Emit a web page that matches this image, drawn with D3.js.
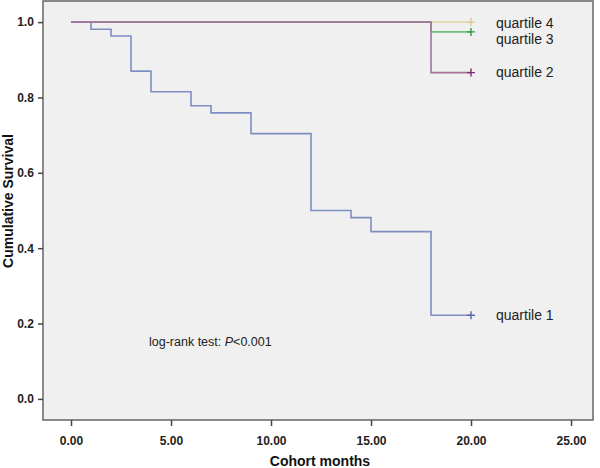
<!DOCTYPE html>
<html><head><meta charset="utf-8">
<script src="https://cdn.jsdelivr.net/npm/d3@7"></script>
<style>body{margin:0;background:#fff}svg{display:block}</style>
</head><body>
<svg id="c" width="600" height="468"></svg>
<script>
// Data
const xTicks = [0, 5, 10, 15, 20, 25];
const yTicks = [0, 0.2, 0.4, 0.6, 0.8, 1.0];
const seriesNames = ["quartile 1", "quartile 2", "quartile 3", "quartile 4"];
// step times and survival after each step; last entry = censor end
const q1Times = [0, 1, 2, 3, 4, 6, 7, 9, 12, 14, 15, 18, 20];
const q1Surv  = [1.0, 0.981, 0.963, 0.870, 0.815, 0.778, 0.759, 0.704, 0.500, 0.481, 0.444, 0.222, 0.222];
const q2Times = [0, 18, 20];
const q2Surv  = [1.0, 0.866, 0.866];
const q3Times = [0, 18, 20];
const q3Surv  = [1.0, 0.974, 0.974];
const q4Times = [0, 20];
const q4Surv  = [1.0, 1.0];
const pText = "P";

const svg = d3.select("#c");
const L = 43, R = 593, T = 1, B = 420;
const x = d3.scaleLinear().domain([-1.4, 26.1]).range([L, R]);
const y = d3.scaleLinear().domain([-0.056, 1.056]).range([B, T]);

svg.append("rect").attr("x", L).attr("y", T).attr("width", R - L).attr("height", B - T)
  .attr("fill", "#f0f0f0").attr("stroke", "#666").attr("stroke-width", 1.5);

const xa = svg.append("g").attr("transform", `translate(0,${B})`)
  .call(d3.axisBottom(x).tickValues(xTicks).tickFormat(d3.format(".2f")).tickSize(6).tickSizeOuter(0));
const ya = svg.append("g").attr("transform", `translate(${L},0)`)
  .call(d3.axisLeft(y).tickValues(yTicks).tickFormat(d3.format(".1f")).tickSize(5).tickSizeOuter(0));
[xa, ya].forEach(a => {
  a.select(".domain").remove();
  a.selectAll("line").attr("stroke", "#444").attr("stroke-width", 1.5);
  a.selectAll("text").attr("fill", "#222").style("font-family", "Arial, 'Liberation Sans', sans-serif")
    .style("font-size", "12px").style("font-weight", "bold");
});
xa.selectAll("text").attr("dy", "1.35em");
ya.selectAll("text").attr("dx", "-0.1em");

svg.append("text").attr("x", 320).attr("y", 466).attr("text-anchor", "middle")
  .style("font-family", "Arial, 'Liberation Sans', sans-serif").style("font-size", "14px")
  .style("font-weight", "bold").attr("fill", "#111").text("Cohort months");
svg.append("text").attr("transform", "translate(13,201) rotate(-90)").attr("text-anchor", "middle")
  .style("font-family", "Arial, 'Liberation Sans', sans-serif").style("font-size", "14px")
  .style("font-weight", "bold").attr("fill", "#111").text("Cumulative Survival");

const series = [
  {name: seriesNames[3], t: q4Times, s: q4Surv, color: "#e6d9ad", cens: "#dccb94", ly: 23},
  {name: seriesNames[2], t: q3Times, s: q3Surv, color: "#6cc07c", cens: "#2e9a40", ly: 39},
  {name: seriesNames[0], t: q1Times, s: q1Surv, color: "#7e8ec2", cens: "#5a6aa8", ly: 315},
  {name: seriesNames[1], t: q2Times, s: q2Surv, color: "#a4749c", cens: "#7a2e6e", ly: 72},
];
const line = d3.line().x(d => x(d[0])).y(d => y(d[1])).curve(d3.curveStepAfter);
series.forEach(sr => {
  const pts = sr.t.map((t, i) => [t, sr.s[i]]);
  svg.append("path").attr("d", line(pts)).attr("fill", "none")
    .attr("stroke", sr.color).attr("stroke-width", 1.6);
  const last = pts[pts.length - 1];
  const cx = x(last[0]), cy = y(last[1]);
  svg.append("path").attr("d", `M${cx - 4},${cy}H${cx + 4}M${cx},${cy - 4}V${cy + 4}`)
    .attr("stroke", sr.cens).attr("stroke-width", 1.4);
  svg.append("text").attr("x", 496).attr("y", sr.ly).attr("dy", "0.35em")
    .style("font-family", "Arial, 'Liberation Sans', sans-serif").style("font-size", "14px")
    .attr("fill", "#222").text(sr.name);
});

const lt = svg.append("text").attr("x", 149).attr("y", 342).attr("dy", "0.35em")
  .style("font-family", "Arial, 'Liberation Sans', sans-serif").style("font-size", "12.5px").attr("fill", "#222");
lt.append("tspan").text("log-rank test: ");
lt.append("tspan").style("font-style", "italic").text(pText);
lt.append("tspan").text("<0.001");
</script>
</body></html>
